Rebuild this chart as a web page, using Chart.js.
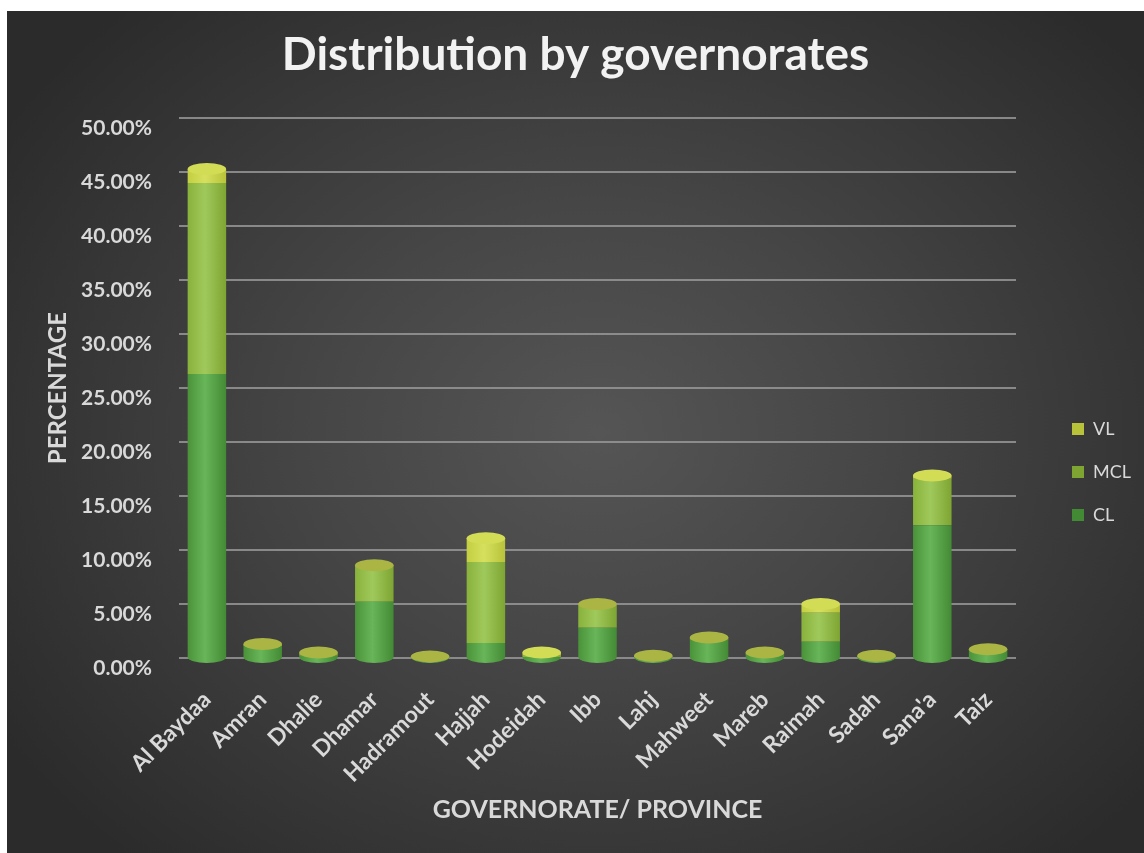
<!DOCTYPE html>
<html>
<head>
<meta charset="utf-8">
<title>Distribution by governorates</title>
<script src="https://cdn.jsdelivr.net/npm/chart.js@4.4.1/dist/chart.umd.min.js"></script>
<style>
    html, body { margin: 0; padding: 0; background: #ffffff; }
    #wrap {
        position: absolute;
        left: 7px;
        top: 11px;
        width: 1137px;
        height: 842px;
        background: radial-gradient(ellipse 62% 68% at 52% 50%, #555555 0%, #464646 40%, #2b2b2b 100%);
    }
</style>
</head>
<body>
<div id="wrap"><canvas id="govChart"></canvas></div>
<script>
// Categories and series values (share of cases, %)
const governorates = ['Al Baydaa', 'Amran', 'Dhalie', 'Dhamar', 'Hadramout', 'Hajjah', 'Hodeidah', 'Ibb',
    'Lahj', 'Mahweet', 'Mareb', 'Raimah', 'Sadah', "Sana'a", 'Taiz'];
const clValues  = [26.3, 1.1, 0.2, 5.2, 0.05, 1.4, 0.1, 2.8, 0.1, 1.7, 0.3, 1.5, 0.1, 12.3, 0.7];
const mclValues = [17.7, 0.2, 0.3, 3.4, 0.1, 7.5, 0.1, 2.2, 0.1, 0.2, 0.2, 2.7, 0.1, 4.3, 0.1];
const vlValues  = [1.3, 0, 0, 0, 0, 2.2, 0.3, 0, 0, 0, 0, 0.8, 0, 0.3, 0];

// Axis settings
const yMax = 50;
const yStep = 5;

const FONT = 'Lato, "Open Sans", sans-serif';
const TEXT = '#d9d9d9';
const BAR_PCT = 0.69;

// side shading (left, middle, right), legend swatch and top face colour per series
const shades = {
    CL:  { side: ['#4a9239', '#68b659', '#438a34'], swatch: '#4f9e44', top: '#9db845' },
    MCL: { side: ['#88b23a', '#a0c95c', '#7ea532'], swatch: '#9cc35a', top: '#aab543' },
    VL:  { side: ['#c3cf40', '#d6e05e', '#b8c33a'], swatch: '#c8d64a', top: '#d2dc55' }
};

// Horizontal gradient so each bar reads like a cylinder
function cylinderFill(key) {
    const s = shades[key];
    return (context) => {
        const chart = context.chart;
        const xScale = chart.scales.x;
        if (context.type !== 'data' || !xScale) return s.swatch;
        const cx = xScale.getPixelForValue(context.dataIndex);
        const half = xScale.width / governorates.length * BAR_PCT / 2;
        if (!Number.isFinite(cx) || !Number.isFinite(half) || half <= 0) return s.side[1];
        const g = chart.ctx.createLinearGradient(cx - half, 0, cx + half, 0);
        g.addColorStop(0, s.side[0]);
        g.addColorStop(0.45, s.side[1]);
        g.addColorStop(1, s.side[2]);
        return g;
    };
}

// Ellipse caps on top and rounded bottoms, taken from the drawn bar elements
const cylinderCaps = {
    id: 'cylinderCaps',
    afterDatasetsDraw(chart) {
        const ctx = chart.ctx;
        const metas = chart.getSortedVisibleDatasetMetas();
        governorates.forEach((name, i) => {
            const parts = metas
                .filter(m => chart.data.datasets[m.index].data[i] > 0)
                .map(m => ({ el: m.data[i], key: chart.data.datasets[m.index].label }));
            if (!parts.length) return;
            const first = parts[0];
            const last = parts[parts.length - 1];
            const rx = last.el.width / 2;
            const ry = 6;
            ctx.save();
            ctx.beginPath();
            ctx.ellipse(first.el.x, first.el.base, rx, ry, 0, 0, Math.PI);
            ctx.fillStyle = first.el.options.backgroundColor;
            ctx.fill();
            ctx.beginPath();
            ctx.ellipse(last.el.x, last.el.y, rx, ry, 0, 0, 2 * Math.PI);
            ctx.fillStyle = shades[last.key].top;
            ctx.fill();
            ctx.restore();
        });
    }
};

// Keep the legend at a fixed width and move it right and down, next to the plot
const legendPlacement = {
    id: 'legendPlacement',
    afterInit(chart) {
        const lg = chart.legend;
        if (!lg) return;
        const origFit = lg.fit;
        lg.fit = function () {
            origFit.call(this);
            this.width = 128;
        };
    },
    afterLayout(chart) {
        const lg = chart.legend;
        if (!lg) return;
        const dx = 31, dy = 40;
        lg.left += dx; lg.right += dx;
        lg.top += dy; lg.bottom += dy;
    }
};

const canvas = document.getElementById('govChart');
canvas.chart = new Chart(canvas, {
    type: 'bar',
    data: {
        labels: governorates,
        datasets: [
            { label: 'CL', data: clValues, backgroundColor: cylinderFill('CL') },
            { label: 'MCL', data: mclValues, backgroundColor: cylinderFill('MCL') },
            { label: 'VL', data: vlValues, backgroundColor: cylinderFill('VL') }
        ]
    },
    options: {
        responsive: true,
        maintainAspectRatio: false,
        animation: false,
        layout: { padding: 0 },
        datasets: {
            bar: { barPercentage: BAR_PCT, categoryPercentage: 1, borderWidth: 0 }
        },
        plugins: {
            title: {
                display: true,
                text: 'Distribution by governorates',
                color: '#f2f2f2',
                font: { family: FONT, size: 46, weight: 'bold' },
                padding: { top: 17, bottom: 35 }
            },
            legend: {
                position: 'right',
                reverse: true,
                labels: {
                    color: TEXT,
                    font: { family: FONT, size: 18 },
                    boxWidth: 12,
                    boxHeight: 12,
                    padding: 25
                }
            },
            tooltip: { enabled: false }
        },
        scales: {
            x: {
                stacked: true,
                grid: { display: false },
                border: { display: false },
                ticks: {
                    color: TEXT,
                    font: { family: FONT, size: 23, weight: 'bold' },
                    maxRotation: 45,
                    minRotation: 45,
                    autoSkip: false,
                    padding: 20
                },
                title: {
                    display: true,
                    text: 'GOVERNORATE/ PROVINCE',
                    color: TEXT,
                    font: { family: FONT, size: 25, weight: 'bold' },
                    padding: { top: 0, bottom: 28 }
                },
                afterFit: (scale) => { scale.height = 195; }
            },
            y: {
                stacked: true,
                min: 0,
                max: yMax,
                grid: { color: 'rgba(150,150,150,0.85)', lineWidth: 2, drawTicks: false },
                border: { display: false },
                ticks: {
                    stepSize: yStep,
                    color: TEXT,
                    font: { family: FONT, size: 21, weight: 'bold' },
                    padding: 27,
                    labelOffset: 10,
                    callback: (value) => value.toFixed(2) + '%'
                },
                title: {
                    display: true,
                    text: 'PERCENTAGE',
                    color: TEXT,
                    font: { family: FONT, size: 24, weight: 'bold' },
                    padding: { top: 37, bottom: 0 }
                },
                afterFit: (scale) => { scale.width = 172; }
            }
        }
    },
    plugins: [cylinderCaps, legendPlacement]
});
</script>
</body>
</html>
